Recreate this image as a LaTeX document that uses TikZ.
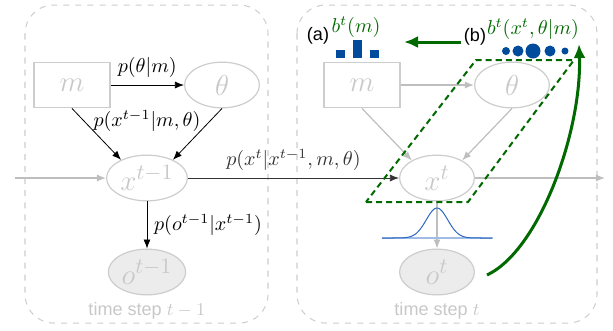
\documentclass[tikz,border=0pt]{standalone}
\usepackage{fontspec}
\setsansfont{Liberation Sans}
\usetikzlibrary{arrows.meta,shapes.geometric}
\definecolor{nodegray}{RGB}{205,205,205}
\definecolor{textgray}{RGB}{200,200,200}
\definecolor{obsgray}{RGB}{236,236,236}
\definecolor{linegray}{RGB}{190,190,190}
\definecolor{beliefgreen}{RGB}{0,105,0}
\definecolor{beliefblue}{RGB}{0,75,155}
\definecolor{gaussblue}{RGB}{45,105,195}
\tikzset{
  slice/.style={draw=nodegray, dashed, line width=0.5pt, rounded corners=0.5cm},
  steplbl/.style={font=\sffamily\small, text=textgray},
  mbox/.style={rectangle, draw=nodegray, line width=0.6pt, minimum width=1.33cm, minimum height=0.8cm, text=textgray, font=\fontsize{15}{17}\selectfont},
  varnode/.style={ellipse, draw=nodegray, line width=0.6pt, minimum width=1.31cm, minimum height=0.8cm, inner sep=1pt, text=textgray, font=\fontsize{15}{17}\selectfont},
  obsnode/.style={varnode, fill=obsgray},
  arr/.style={-{Latex[length=4.5pt,width=3.5pt]}, line width=0.4pt, black},
  grayarr/.style={-{Latex[length=4.5pt,width=3.5pt]}, line width=0.6pt, linegray},
  beliefarr/.style={-{Latex[length=7pt,width=6pt]}, line width=1.5pt, beliefgreen}
}
\begin{document}
\begin{tikzpicture}[x=0.0175cm, y=-0.0175cm]
  \useasboundingbox (0,0) rectangle (613,330);
  % time slices
  \draw[slice] (25,5) rectangle (268,323);
  \draw[slice] (297,5) rectangle (597,323);
  \node[steplbl] (tsprev) at (147,311) {time step $t-1$};
  \node[steplbl] (tscur) at (437,311) {time step $t$};
  % slice t-1
  \node[mbox] (mprev) at (72,85) {$m$};
  \node[varnode] (thprev) at (222,85) {$\theta$};
  \node[varnode] (xprev) at (147,178) {$x^{t-1}$};
  \node[obsnode] (oprev) at (147,272) {$o^{t-1}$};
  % slice t
  \node[mbox] (mcur) at (362,85) {$m$};
  \node[varnode] (thcur) at (512,85) {$\theta$};
  \node[varnode] (xcur) at (437,178) {$x^{t}$};
  \node[obsnode] (ocur) at (437,272) {$o^{t}$};
  \coordinate (inL) at (15,178);
  \coordinate (outR) at (605,178);
  \draw[grayarr] (inL) -- (xprev);
  \draw[grayarr] (xcur) -- (outR);
  \draw[arr] (mprev) -- node[above] {$p(\theta|m)$} (thprev);
  \draw[arr] (mprev.south) -- (xprev.145);
  \draw[arr] (thprev.south) -- (xprev.35);
  \node (lblx) at (147,121) {$p(x^{t-1}|m,\theta)$};
  \draw[arr] (xprev) -- node[right] {$p(o^{t-1}|x^{t-1})$} (oprev);
  \draw[arr, black!80] (xprev) -- node[above] {$p(x^t|x^{t-1},m,\theta)$} (xcur);
  \draw[grayarr] (mcur) -- (thcur);
  \draw[grayarr] (mcur.south) -- (xcur.145);
  \draw[grayarr] (thcur.south) -- (xcur.35);
  \draw[grayarr] (xcur) -- (ocur);
  % observation likelihood
  \draw[gaussblue!45, line width=0.8pt] (382,238) -- (493,238);
  \draw[gaussblue, line width=0.5pt] plot[domain=-55:55, samples=80] ({437+\x},{238-30*exp(-(\x*\x)/(2*115))});
  % joint belief region
  \draw[beliefgreen, dashed, dash pattern=on 3pt off 2pt, line width=1pt]
    (366,202) -- (468,202) -- (574,60) -- (476,60) -- cycle;
  % beliefs
  \node[font=\sffamily\small] (lbla) at (318,36) {(a)};
  \node[text=beliefgreen] (bm) at (356,27) {$b^t(m)$};
  \fill[beliefblue] (336,50) rectangle (345,58);
  \fill[beliefblue] (353,40) rectangle (362,58);
  \fill[beliefblue] (370,50) rectangle (379,58);
  \node[font=\sffamily\small] (lblb) at (475,37) {(b)};
  \node[text=beliefgreen] (bxm) at (533,29) {$b^t(x^t,\theta|m)$};
  \fill[beliefblue] (506,51) circle[radius=4];
  \fill[beliefblue] (518,51) circle[radius=5.5];
  \fill[beliefblue] (533,51) circle[radius=7.5];
  \fill[beliefblue] (550,51) circle[radius=5.5];
  \fill[beliefblue] (565,51) circle[radius=3.5];
  \coordinate (bsrc) at (461,42);
  \coordinate (btgt) at (404,42);
  \coordinate (btop) at (579,44);
  \draw[beliefarr] (bsrc) -- (btgt);
  \path (ocur.east) ++(12,3) coordinate (ostart);
  \draw[beliefarr] (ostart) .. controls (540,250) and (582,130) .. (btop);
\end{tikzpicture}
\end{document}
